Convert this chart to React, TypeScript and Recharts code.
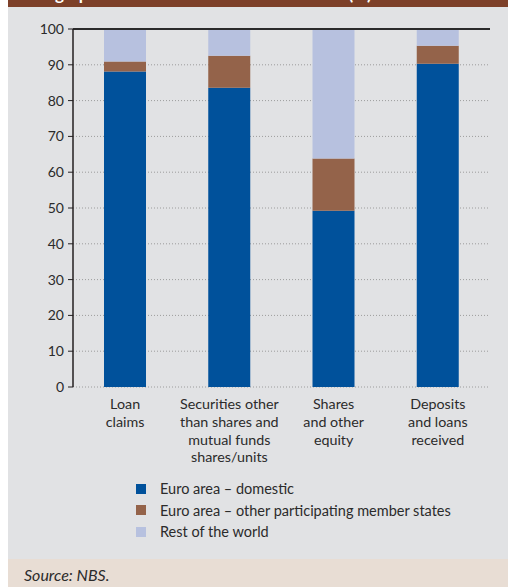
import React from "react";
import {
  Bar,
  BarChart,
  CartesianGrid,
  ReferenceLine,
  XAxis,
  YAxis,
} from "recharts";

const categories = [
  "Loan\nclaims",
  "Securities other\nthan shares and\nmutual funds\nshares/units",
  "Shares\nand other\nequity",
  "Deposits\nand loans\nreceived",
];
const domestic = [88.1, 83.6, 49.2, 90.3];
const otherMemberStates = [2.8, 8.9, 14.6, 5.0];
const restOfWorld = [9.1, 7.5, 36.2, 4.4];
const yTicks = [0, 10, 20, 30, 40, 50, 60, 70, 80, 90, 100];
const boundaryTicks = [0, 1, 2, 3, 4];

const seriesNames = [
  "Euro area – domestic",
  "Euro area – other participating member states",
  "Rest of the world",
];
const colors = ["#00519b", "#94634a", "#b7c1df"];

const data = categories.map((name, i) => ({
  name,
  domestic: domestic[i],
  other: otherMemberStates[i],
  rest: restOfWorld[i],
}));

const FONT = "Lato, 'Open Sans', sans-serif";
const TEXT = "#2b2b2b";

function CategoryTick(props: any) {
  const { x, y, payload } = props;
  const lines = String(payload.value).split("\n");
  return (
    <text
      x={x}
      y={y + 22}
      textAnchor="middle"
      fill={TEXT}
      fontSize={14.3}
      fontFamily={FONT}
    >
      {lines.map((line, i) => (
        <tspan key={i} x={x} dy={i === 0 ? 0 : 17.8}>
          {line}
        </tspan>
      ))}
    </text>
  );
}

export default function App() {
  return (
    <div
      style={{
        position: "absolute",
        top: 0,
        left: 8,
        width: 500,
        height: 587,
        background: "#e1e2e4",
        fontFamily: FONT,
        overflow: "hidden",
      }}
    >
      <div
        style={{
          height: 7,
          background: "#7d4029",
          overflow: "hidden",
          position: "relative",
        }}
      >
        <div
          style={{
            position: "absolute",
            top: -15,
            left: 16,
            color: "#fff",
            fontWeight: 700,
            fontSize: 17,
            lineHeight: "17px",
            whiteSpace: "nowrap",
          }}
        >
          Geographical breakdown of selected items (%)
        </div>
      </div>

      <BarChart
        width={500}
        height={465}
        data={data}
        margin={{ top: 22, right: 18, bottom: 5, left: 0 }}
        barSize={42}
      >
        <CartesianGrid
          vertical={false}
          stroke="#9c9c9c"
          strokeDasharray="1 2"
          yAxisId="left"
        />
        <XAxis
          xAxisId="grid"
          type="number"
          domain={[0, 4]}
          ticks={boundaryTicks}
          allowDataOverflow
          height={0}
          tick={false}
          tickLine={{ stroke: "#231f20" }}
          tickSize={5}
          axisLine={{ stroke: "#231f20", strokeWidth: 1.5 }}
        />
        <XAxis
          dataKey="name"
          height={80}
          axisLine={false}
          tickLine={false}
          tickSize={0}
          tickMargin={0}
          interval={0}
          tick={<CategoryTick />}
        />
        <YAxis
          yAxisId="left"
          width={65}
          domain={[0, 100]}
          ticks={yTicks}
          interval={0}
          tickSize={5}
          tickMargin={4}
          axisLine={{ stroke: "#231f20", strokeWidth: 1.5 }}
          tickLine={{ stroke: "#231f20" }}
          tick={{ fill: TEXT, fontSize: 14, fontFamily: FONT }}
        />
        <YAxis
          yAxisId="right"
          orientation="right"
          width={0}
          domain={[0, 100]}
          tick={false}
          tickLine={false}
          axisLine={{ stroke: "#3a3a3a", strokeWidth: 1.5 }}
        />
        <ReferenceLine
          yAxisId="left"
          y={100}
          stroke="#2b2b2b"
          strokeWidth={2}
        />
        <Bar
          yAxisId="left"
          dataKey="domestic"
          stackId="a"
          fill={colors[0]}
          isAnimationActive={false}
        />
        <Bar
          yAxisId="left"
          dataKey="other"
          stackId="a"
          fill={colors[1]}
          isAnimationActive={false}
        />
        <Bar
          yAxisId="left"
          dataKey="rest"
          stackId="a"
          fill={colors[2]}
          isAnimationActive={false}
        />
      </BarChart>

      <div style={{ position: "absolute", left: 128, top: 478 }}>
        {seriesNames.map((s, i) => (
          <div
            key={s}
            style={{
              display: "flex",
              alignItems: "center",
              height: 21.5,
              fontSize: 14.5,
              color: TEXT,
            }}
          >
            <span
              style={{
                width: 10,
                height: 10,
                background: colors[i],
                marginRight: 14,
                display: "inline-block",
              }}
            />
            {s}
          </div>
        ))}
      </div>

      <div
        style={{
          position: "absolute",
          left: 0,
          top: 559,
          width: 500,
          height: 28,
          background: "#e8ddd4",
        }}
      >
        <div
          style={{
            position: "absolute",
            left: 16,
            top: 6,
            fontStyle: "italic",
            fontSize: 16,
            color: TEXT,
          }}
        >
          Source: NBS.
        </div>
      </div>
    </div>
  );
}
